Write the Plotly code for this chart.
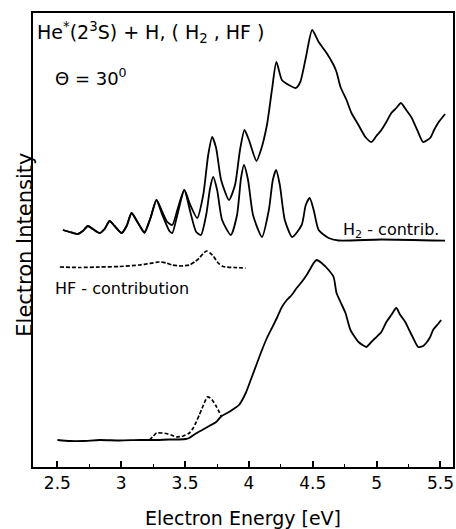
import plotly.graph_objects as go

# ---- data (energy in eV, intensity in arbitrary units) ----
total_E = [2.543, 2.597, 2.660, 2.699, 2.738, 2.777, 2.831, 2.870, 2.909, 2.948, 3.003, 3.042,
           3.081, 3.127, 3.182, 3.229, 3.276, 3.322, 3.361, 3.400, 3.439, 3.494, 3.541, 3.595,
           3.642, 3.681, 3.712, 3.743, 3.782, 3.844, 3.891, 3.930, 3.965, 4.000, 4.059, 4.094,
           4.141, 4.180, 4.215, 4.258, 4.312, 4.367, 4.402, 4.445, 4.495, 4.546, 4.608, 4.663,
           4.686, 4.717, 4.764, 4.803, 4.858, 4.912, 4.959, 4.998, 5.037, 5.076, 5.115, 5.154,
           5.190, 5.232, 5.271, 5.318, 5.364, 5.419, 5.450, 5.481, 5.536]
total_I = [237, 235, 233, 236, 241, 238, 234, 238, 246, 241, 234, 241,
           254, 245, 235, 249, 267, 255, 245, 242, 257, 277, 262, 249,
           272, 312, 330, 319, 287, 267, 282, 317, 337, 327, 306, 317,
           342, 377, 405, 387, 382, 379, 385, 409, 437, 425, 414, 402,
           395, 380, 367, 354, 342, 330, 325, 331, 337, 345, 354, 359,
           364, 357, 350, 337, 325, 329, 337, 344, 353]

h2_E = [2.543, 2.597, 2.660, 2.699, 2.738, 2.777, 2.831, 2.870, 2.909, 2.948, 3.003, 3.042,
        3.081, 3.127, 3.182, 3.229, 3.276, 3.322, 3.377, 3.400, 3.439, 3.494, 3.541, 3.587,
        3.624, 3.665, 3.696, 3.720, 3.751, 3.790, 3.858, 3.907, 3.938, 3.961, 3.993, 4.032,
        4.102, 4.156, 4.187, 4.213, 4.242, 4.281, 4.338, 4.413, 4.445, 4.476, 4.507, 4.546,
        4.624, 4.702, 5.037, 5.536]
h2_I = [237, 235, 233, 236, 241, 238, 234, 238, 246, 241, 234, 241,
        254, 245, 234, 249, 267, 252, 236, 234, 252, 277, 255, 235,
        232, 252, 279, 290, 277, 247, 232, 252, 289, 302, 287, 252,
        230, 257, 287, 297, 282, 247, 230, 242, 262, 269, 257, 237,
        229, 226.5, 227.5, 226.3]

hf_E = [2.519, 2.675, 2.831, 2.987, 3.143, 3.221, 3.299, 3.353, 3.400, 3.470, 3.533,
        3.579, 3.611, 3.642, 3.668, 3.696, 3.720, 3.759, 3.798, 3.883, 3.975]
hf_I = [200, 199.5, 200, 200.5, 202, 203.5, 205, 204, 202, 201, 202,
        205.5, 209, 213.5, 216, 214, 211, 204, 200.5, 199.5, 199]

low_E = [2.500, 2.597, 2.699, 2.831, 2.987, 3.143, 3.276, 3.377, 3.455, 3.507, 3.533,
         3.579, 3.634, 3.689, 3.743, 3.782, 3.844, 3.891, 3.922, 3.975, 4.008, 4.055,
         4.102, 4.141, 4.180, 4.219, 4.258, 4.297, 4.335, 4.374, 4.413, 4.452, 4.484,
         4.507, 4.530, 4.569, 4.624, 4.663, 4.686, 4.717, 4.756, 4.795, 4.858, 4.920,
         4.951, 4.990, 5.037, 5.076, 5.115, 5.154, 5.185, 5.224, 5.255, 5.286, 5.325,
         5.364, 5.388, 5.419, 5.442, 5.481, 5.505]
low_I = [27, 26, 26, 27, 26.5, 27, 27, 27.5, 27.5, 28, 29,
         33, 37, 41, 45, 50.5, 55, 59, 62, 74, 85, 101,
         117, 129, 139, 149, 160, 167, 172, 179, 185, 192, 199,
         204, 207, 204, 197, 190, 174, 165, 154, 137, 125, 120,
         124, 129, 135, 145, 152, 159, 152, 145, 137, 129, 120,
         121, 124, 130, 137, 143, 147]

lowhf_E = [3.221, 3.252, 3.276, 3.322, 3.353, 3.392, 3.431, 3.486, 3.533, 3.564, 3.587,
           3.611, 3.634, 3.657, 3.673, 3.696, 3.712, 3.743, 3.782]
lowhf_I = [27, 31, 34, 34, 33.5, 32, 30, 31, 34, 39, 45,
           52, 59, 66, 70, 69, 67, 61, 51]

x_ticks = [2.5, 3, 3.5, 4, 4.5, 5, 5.5]
x_ticklabels = ["2.5", "3", "3.5", "4", "4.5", "5", "5.5"]

FONT = "DejaVu Sans"
fig = go.Figure()
solid = dict(color="black", width=1.8, shape="spline", smoothing=0.6)
dashed = dict(color="black", width=1.7, dash="4px,2px", shape="spline", smoothing=0.6)

fig.add_trace(go.Scatter(x=total_E, y=total_I, mode="lines", line=solid))
fig.add_trace(go.Scatter(x=h2_E, y=h2_I, mode="lines", line=solid))
fig.add_trace(go.Scatter(x=hf_E, y=hf_I, mode="lines", line=dashed))
fig.add_trace(go.Scatter(x=lowhf_E, y=lowhf_I, mode="lines", line=dashed))
fig.add_trace(go.Scatter(x=low_E, y=low_I, mode="lines", line=solid))

fig.update_layout(
    width=456, height=529,
    margin=dict(l=33, r=1, t=13, b=62),
    paper_bgcolor="white", plot_bgcolor="white",
    showlegend=False,
    font=dict(family=FONT, color="black", size=17),
    xaxis=dict(range=[2.309, 5.598], tickvals=x_ticks, ticktext=x_ticklabels,
               ticks="inside", ticklen=6, tickwidth=1.5, tickcolor="black",
               minor=dict(dtick=0.25, ticks="inside", ticklen=3, tickwidth=1.2, tickcolor="black"),
               showgrid=False, zeroline=False, showline=True, linecolor="black",
               linewidth=1.8, mirror=True, tickfont=dict(size=17),
               title=dict(text="Electron Energy [eV]", font=dict(size=19), standoff=19)),
    yaxis=dict(range=[0, 454], showticklabels=False, ticks="", showgrid=False,
               zeroline=False, showline=True, linecolor="black", linewidth=1.8, mirror=True),
    annotations=[
        dict(x=2.325, y=435, xref="x", yref="y", xanchor="left", yanchor="middle", showarrow=False,
             text="He<sup>*</sup>(2<sup>3</sup>S) + H, ( H<sub>2</sub> , HF )", font=dict(size=19)),
        dict(x=2.465, y=390, xref="x", yref="y", xanchor="left", yanchor="middle", showarrow=False,
             text="Θ = 30<sup>0</sup>", font=dict(size=18)),
        dict(x=4.717, y=237, xref="x", yref="y", xanchor="left", yanchor="middle", showarrow=False,
             text="H<sub>2</sub> - contrib.", font=dict(size=16)),
        dict(x=2.465, y=179, xref="x", yref="y", xanchor="left", yanchor="middle", showarrow=False,
             text="HF - contribution", font=dict(size=16)),
        dict(x=-0.021, y=0.49, xref="paper", yref="paper", xanchor="center", yanchor="middle",
             showarrow=False, textangle=-90, text="Electron Intensity", font=dict(size=21)),
    ],
)

fig.write_html("out.html")
